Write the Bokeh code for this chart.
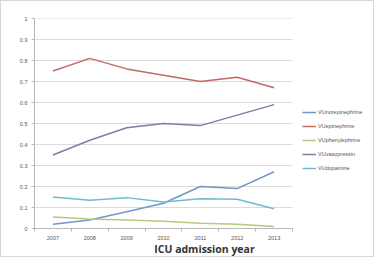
from bokeh.plotting import figure
from bokeh.models import Range1d, FixedTicker, CustomJSTickFormatter, Legend, LegendItem
from bokeh.embed import file_html
from bokeh.resources import INLINE

years = ["2007", "2008", "2009", "2010", "2011", "2012", "2013"]
norepinephrine = [0.02, 0.04, 0.08, 0.12, 0.20, 0.19, 0.27]
epinephrine = [0.75, 0.81, 0.76, 0.73, 0.70, 0.72, 0.67]
phenylephrine = [0.055, 0.045, 0.04, 0.035, 0.025, 0.02, 0.01]
vasopressin = [0.35, 0.42, 0.48, 0.50, 0.49, 0.54, 0.59]
dopamine = [0.15, 0.135, 0.147, 0.126, 0.142, 0.139, 0.094]
labels = ["VUnorepinephrine", "VUepinephrine", "VUphenylephrine", "VUvasopressin", "VUdopamine"]
y_ticks = [0, 0.1, 0.2, 0.3, 0.4, 0.5, 0.6, 0.7, 0.8, 0.9, 1.0]

series = [norepinephrine, epinephrine, phenylephrine, vasopressin, dopamine]
colors = ["#6f97c8", "#c06a68", "#b4c97e", "#8a76a8", "#6bbcd0"]

n = len(years)
xs = list(range(n))
W, H = 374, 257
left_b, right_b = 33, 1
frame_w = W - left_b - right_b
cat_px = 258 / n  # pixel width of one category slot
x_start = -0.5
x_end = x_start + frame_w / cat_px

p = figure(width=W, height=H, x_range=Range1d(x_start, x_end), y_range=Range1d(0, 1),
           output_backend="svg", toolbar_location=None,
           min_border_left=left_b, min_border_right=right_b, min_border_top=17, min_border_bottom=0,
           styles={"border": "1px solid #d8d8d8"})
p.outline_line_color = None
p.background_fill_color = "white"
p.border_fill_color = "white"

# horizontal gridlines limited to the category area
p.xgrid.grid_line_color = None
p.ygrid.grid_line_color = None
p.segment(x0=[x_start] * len(y_ticks), x1=[x_start + n] * len(y_ticks),
          y0=y_ticks, y1=y_ticks, line_color="#dcdcdc", line_width=1)

items = []
for s, c, lab in zip(series, colors, labels):
    r = p.line(xs, s, line_color=c, line_width=1.5)
    items.append(LegendItem(label=lab, renderers=[r]))

p.yaxis.ticker = FixedTicker(ticks=y_ticks)
p.yaxis.formatter = CustomJSTickFormatter(code="return tick.toFixed(1).replace(/\\.0$/, '');")
p.xaxis.ticker = FixedTicker(ticks=xs, minor_ticks=[x + 0.5 for x in [-1] + xs])
p.xaxis.major_label_overrides = {i: y for i, y in enumerate(years)}
p.xaxis.bounds = (x_start, x_start + n)
for ax in (p.xaxis, p.yaxis):
    ax.axis_line_color = "#b8b8b8"
    ax.major_tick_line_color = "#b8b8b8"
    ax.major_tick_in = 0
    ax.major_tick_out = 3
    ax.major_label_text_font = "Liberation Sans"
    ax.major_label_text_font_size = "5.5px"
    ax.major_label_text_color = "#555555"
    ax.major_label_standoff = 4
p.yaxis.minor_tick_line_color = None
p.xaxis.major_tick_out = 0
p.xaxis.major_label_standoff = 4
p.xaxis.minor_tick_line_color = "#b8b8b8"
p.xaxis.minor_tick_in = 0
p.xaxis.minor_tick_out = 3

p.xaxis.axis_label = "ICU admission year"
p.xaxis.axis_label_text_font = "Open Sans"
p.xaxis.axis_label_text_font_style = "bold"
p.xaxis.axis_label_text_font_size = "10.5px"
p.xaxis.axis_label_text_color = "#333333"
p.xaxis.axis_label_standoff = -1

legend = Legend(items=items, location=(268, 56), orientation="vertical",
                label_text_font="Liberation Sans", label_text_font_size="5.5px",
                label_text_color="#555555", glyph_width=14, glyph_height=8, label_height=8,
                spacing=6, padding=0, margin=0, label_standoff=2,
                background_fill_alpha=0, border_line_color=None)
p.add_layout(legend, "center")

open("out.html", "w").write(file_html(p, INLINE))
